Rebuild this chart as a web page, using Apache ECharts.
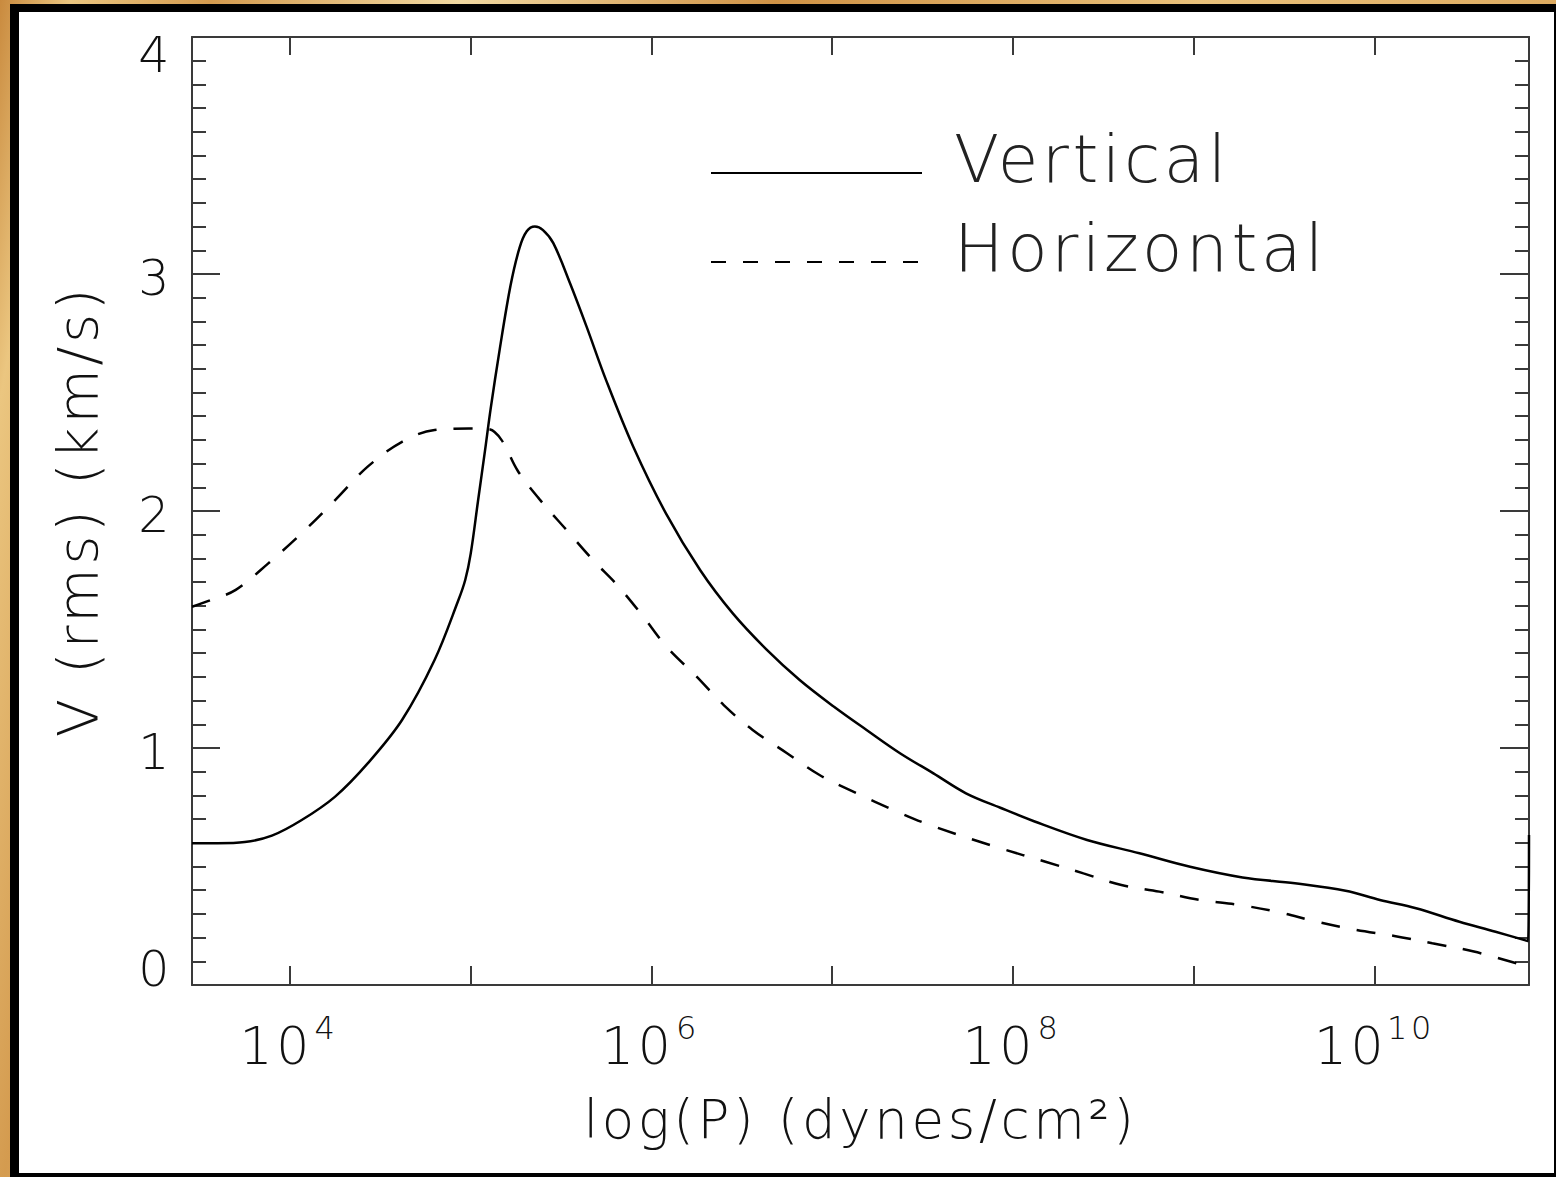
<!DOCTYPE html>
<html>
<head>
<meta charset="utf-8">
<title>RMS velocity vs pressure</title>
<script src="https://cdn.jsdelivr.net/npm/echarts@6/dist/echarts.min.js"></script>
<style>
  html, body { margin: 0; padding: 0; }
  body {
    width: 1556px; height: 1177px; position: relative; overflow: hidden;
    background: linear-gradient(100deg, #c98a3e 0%, #ebc680 4%, #d49b4f 12%, #f1d9a2 26%, #cf9245 44%, #e9c17b 68%, #d79f52 100%);
  }
  #frame { position: absolute; left: 10px; top: 4px; right: 0; bottom: 0; background: #000; }
  #panel { position: absolute; left: 19px; top: 12px; width: 1535px; height: 1161px; background: #fff; }
  #chart { position: absolute; left: 0; top: 0; width: 1556px; height: 1177px; }
  /* the plotting font is set wide, so open up the letter spacing */
  #chart text { letter-spacing: 3.6px; }
</style>
</head>
<body>
<div id="frame"></div>
<div id="panel"></div>
<div id="chart"></div>
<script>
// log10 of pressure (dynes/cm^2) and rms velocity (km/s), vertical component
const logPVertical = [3.458, 3.60, 3.75, 3.90, 4.065, 4.25, 4.43, 4.62, 4.80, 4.93,
  4.97, 5.00, 5.04, 5.08, 5.11, 5.16, 5.22, 5.27, 5.31, 5.355, 5.40,
  5.457, 5.55, 5.64, 5.75, 5.90, 6.08, 6.27, 6.45, 6.64, 6.82,
  7.01, 7.19, 7.375, 7.56, 7.74, 7.93, 8.12, 8.41, 8.70, 8.98,
  9.27, 9.56, 9.84, 10.03, 10.23, 10.47, 10.67, 10.85, 10.855];
const vVertical = [0.598, 0.598, 0.603, 0.630, 0.696, 0.795, 0.935, 1.118, 1.371, 1.62,
  1.71, 1.82, 2.04, 2.26, 2.43, 2.68, 2.95, 3.11, 3.18, 3.20, 3.185,
  3.13, 2.96, 2.78, 2.55, 2.27, 1.99, 1.75, 1.568, 1.413, 1.287,
  1.174, 1.076, 0.978, 0.893, 0.809, 0.748, 0.690, 0.612, 0.556, 0.499,
  0.454, 0.429, 0.398, 0.359, 0.324, 0.267, 0.225, 0.185, 0.633];

// log10 of pressure and rms velocity, horizontal component
const logPHorizontal = [3.458, 3.56, 3.70, 3.88, 4.065, 4.25, 4.43, 4.62, 4.80, 4.99,
  5.10, 5.17, 5.26, 5.38, 5.53, 5.68, 5.81, 5.955, 6.084, 6.25,
  6.40, 6.56, 6.75, 6.93, 7.135, 7.34, 7.54, 7.93, 8.18, 8.39,
  8.60, 8.81, 9.03, 9.25, 9.46, 9.68, 9.90, 10.11, 10.32, 10.55,
  10.80];
const vHorizontal = [1.596, 1.624, 1.667, 1.779, 1.906, 2.046, 2.187, 2.292, 2.342, 2.348,
  2.345, 2.30, 2.17, 2.05, 1.92, 1.79, 1.688, 1.554, 1.427, 1.301,
  1.181, 1.076, 0.978, 0.886, 0.809, 0.738, 0.675, 0.577, 0.520, 0.471,
  0.422, 0.394, 0.359, 0.338, 0.309, 0.267, 0.232, 0.207, 0.176, 0.141,
  0.088];

const seriesNames = ['Vertical', 'Horizontal'];
const decadeTicks = [4, 5, 6, 7, 8, 9, 10];
const decadeLabels = [4, 6, 8, 10];
const logPRange = [3.458, 10.855];
const velocityRange = [0, 4];
const xTitle = 'log(P) (dynes/cm²)';
const yTitle = 'V (rms) (km/s)';

const FONT = '"DejaVu Sans", "Liberation Sans", sans-serif';
const AXIS_COLOR = '#3a3a3a';
const INK = '#111';

function pairs(xs, ys) { return xs.map((x, i) => [x, ys[i]]); }

const axisLineStyle = { show: true, onZero: false, lineStyle: { color: AXIS_COLOR, width: 2 } };

// one legend block per series so each row sits at its own height
function legendRow(name, top, lineStyle) {
  return {
    orient: 'vertical', left: 710, top: top, padding: 0,
    itemWidth: 211, itemHeight: 14,
    selectedMode: false,
    itemStyle: { opacity: 0 },
    formatter: n => '{t|' + n + '}',
    textStyle: {
      rich: {
        t: { fontFamily: FONT, fontWeight: 200, fontSize: 66, color: '#222', padding: [0, 0, 28, 27] }
      }
    },
    data: [lineStyle ? { name: name, lineStyle: lineStyle } : { name: name }]
  };
}

const chart = echarts.init(document.getElementById('chart'), null, { renderer: 'svg' });
chart.setOption({
  backgroundColor: 'transparent',
  animation: false,
  grid: { left: 192, top: 37, right: 27, bottom: 192, containLabel: false },
  legend: [
    legendRow(seriesNames[0], 126, null),
    legendRow(seriesNames[1], 215, { type: [15, 17] })
  ],
  xAxis: [{
    type: 'value', position: 'bottom',
    min: logPRange[0], max: logPRange[1],
    axisLine: axisLineStyle,
    axisTick: { show: true, inside: true, length: 19, customValues: decadeTicks, lineStyle: { color: AXIS_COLOR, width: 2 } },
    axisLabel: {
      show: true, customValues: decadeLabels, margin: 27,
      formatter: v => '{b|10}{s|' + v + '}',
      rich: {
        b: { fontFamily: FONT, fontWeight: 200, fontSize: 52, lineHeight: 60, verticalAlign: 'bottom', color: INK },
        s: { fontFamily: FONT, fontWeight: 200, fontSize: 32, lineHeight: 32, verticalAlign: 'top', color: INK, padding: [0, 0, 0, 7] }
      }
    },
    splitLine: { show: false },
    name: xTitle,
    nameLocation: 'middle', nameGap: 108,
    nameTextStyle: { fontFamily: FONT, fontWeight: 200, fontSize: 53, color: INK }
  }, {
    type: 'value', position: 'top',
    min: logPRange[0], max: logPRange[1],
    axisLine: axisLineStyle,
    axisTick: { show: true, inside: true, length: 18, customValues: decadeTicks, lineStyle: { color: AXIS_COLOR, width: 2 } },
    axisLabel: { show: false },
    splitLine: { show: false }
  }],
  yAxis: [{
    type: 'value', position: 'left',
    min: velocityRange[0], max: velocityRange[1], interval: 1,
    axisLine: axisLineStyle,
    axisTick: { show: true, inside: true, length: 28, lineStyle: { color: AXIS_COLOR, width: 2 } },
    minorTick: { show: true, splitNumber: 10, length: 14, lineStyle: { color: AXIS_COLOR, width: 2 } },
    axisLabel: {
      show: true, margin: 19,
      formatter: v => v === velocityRange[0] ? '{lo|' + v + '}' : v === velocityRange[1] ? '{hi|' + v + '}' : '{n|' + v + '}',
      rich: {
        n: { fontFamily: FONT, fontWeight: 200, fontSize: 49, color: INK, padding: [9, 0, 0, 0] },
        lo: { fontFamily: FONT, fontWeight: 200, fontSize: 49, color: INK, padding: [0, 0, 32, 0] },
        hi: { fontFamily: FONT, fontWeight: 200, fontSize: 49, color: INK, padding: [36, 0, 0, 0] }
      }
    },
    splitLine: { show: false },
    minorSplitLine: { show: false },
    name: yTitle,
    nameLocation: 'middle', nameGap: 87, nameRotate: 90,
    nameTextStyle: { fontFamily: FONT, fontWeight: 200, fontSize: 56, color: INK }
  }, {
    type: 'value', position: 'right',
    min: velocityRange[0], max: velocityRange[1], interval: 1,
    axisLine: axisLineStyle,
    axisTick: { show: true, inside: true, length: 29, lineStyle: { color: AXIS_COLOR, width: 2 } },
    minorTick: { show: true, splitNumber: 10, length: 14, lineStyle: { color: AXIS_COLOR, width: 2 } },
    axisLabel: { show: false },
    splitLine: { show: false }
  }],
  series: [{
    name: seriesNames[0], type: 'line',
    data: pairs(logPVertical, vVertical),
    symbol: 'none', smooth: 0.35,
    color: '#000',
    lineStyle: { color: '#000', width: 2.5, type: 'solid' }
  }, {
    name: seriesNames[1], type: 'line',
    data: pairs(logPHorizontal, vHorizontal),
    symbol: 'none', smooth: 0.35,
    color: '#000',
    lineStyle: { color: '#000', width: 2.5, type: [19, 17] }
  }]
});
</script>
</body>
</html>
